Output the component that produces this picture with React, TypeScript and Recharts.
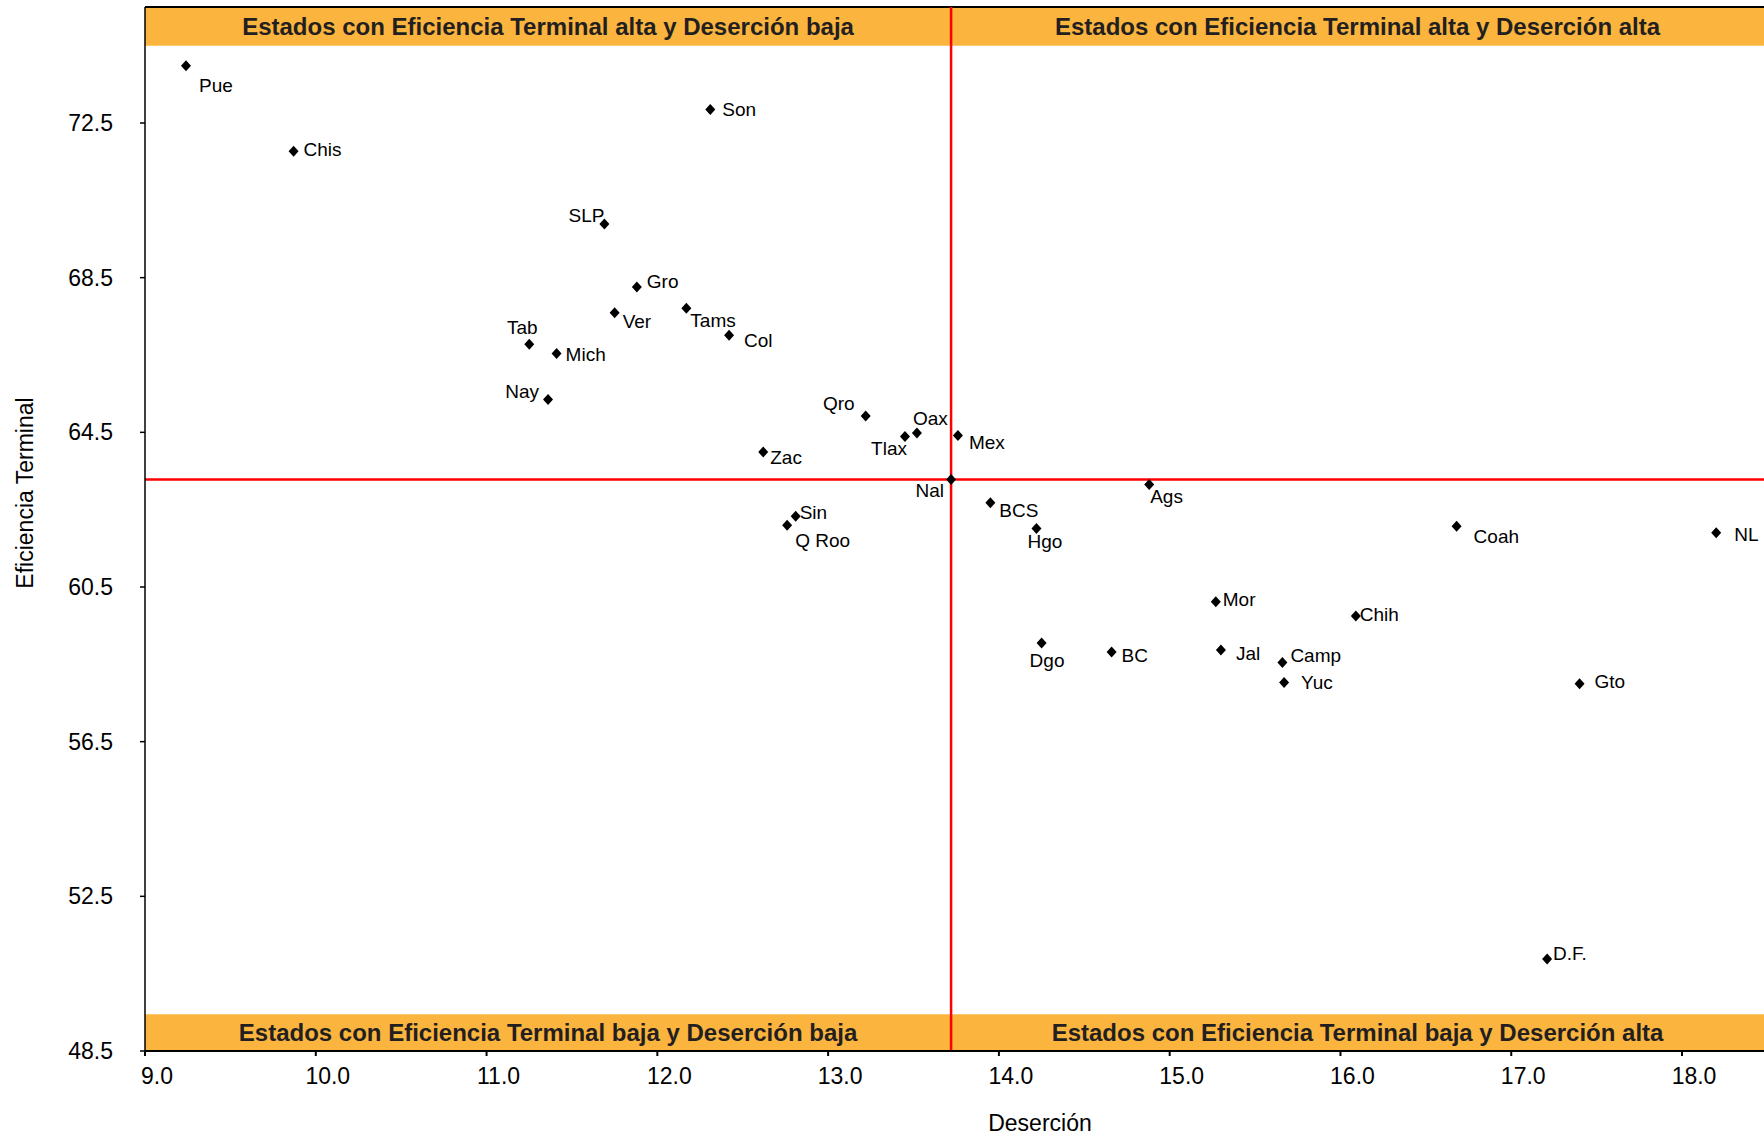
import React from "react";
import {
  ScatterChart,
  Scatter,
  XAxis,
  YAxis,
  ReferenceArea,
  ReferenceLine,
} from "recharts";

// estados, deserción (%) y eficiencia terminal (%)
const states = [
  "Pue", "Chis", "Son", "SLP", "Gro", "Ver", "Tams", "Col", "Tab", "Mich", "Nay",
  "Qro", "Oax", "Tlax", "Mex", "Zac", "Nal", "Sin", "Q Roo", "BCS", "Hgo", "Ags",
  "Coah", "NL", "Mor", "Chih", "Dgo", "BC", "Jal", "Camp", "Yuc", "Gto", "D.F.",
];
const desercion = [
  9.24, 9.87, 12.31, 11.69, 11.88, 11.75, 12.17, 12.42, 11.25, 11.41, 11.36,
  13.22, 13.52, 13.45, 13.76, 12.62, 13.72, 12.81, 12.76, 13.95, 14.22, 14.88,
  16.68, 18.2, 15.27, 16.09, 14.25, 14.66, 15.3, 15.66, 15.67, 17.4, 17.21,
];
const eficiencia = [
  73.98, 71.77, 72.85, 69.89, 68.26, 67.59, 67.71, 67.01, 66.78, 66.54, 65.35,
  64.92, 64.48, 64.39, 64.42, 63.99, 63.28, 62.33, 62.1, 62.68, 62.01, 63.15,
  62.07, 61.9, 60.12, 59.75, 59.05, 58.82, 58.87, 58.55, 58.03, 58.0, 50.88,
];
const xTicks = [9, 10, 11, 12, 13, 14, 15, 16, 17, 18];
const yTicks = [48.5, 52.5, 56.5, 60.5, 64.5, 68.5, 72.5];

const data = states.map((name, i) => ({ name, x: desercion[i], y: eficiencia[i] }));
const nal = data[states.indexOf("Nal")];

const X_MAX = 18.48;

// dónde va cada etiqueta respecto al punto
const labelPos: Record<string, [number, number, string]> = {
  Pue: [13, 20, "start"], Chis: [10, -2, "start"], Son: [12, 0, "start"],
  SLP: [0, -9, "end"], Gro: [10, -6, "start"], Ver: [8, 8, "start"],
  Tams: [4, 12, "start"], Col: [15, 5, "start"], Tab: [-7, -17, "middle"],
  Mich: [9, 1, "start"], Nay: [-9, -8, "end"], Qro: [-11, -13, "end"],
  Oax: [-4, -15, "start"], Tlax: [2, 12, "end"], Mex: [11, 7, "start"],
  Zac: [7, 5, "start"], Nal: [-7, 11, "end"], Sin: [4, -4, "start"],
  "Q Roo": [8, 15, "start"], BCS: [9, 8, "start"], Hgo: [-9, 13, "start"],
  Ags: [1, 12, "start"], Coah: [17, 10, "start"], NL: [18, 1, "start"],
  Mor: [7, -2, "start"], Chih: [4, -2, "start"], Dgo: [-12, 17, "start"],
  BC: [10, 3, "start"], Jal: [15, 3, "start"], Camp: [8, -7, "start"],
  Yuc: [17, 0, "start"], Gto: [15, -2, "start"], "D.F.": [6, -6, "start"],
};

const FONT = "'Liberation Sans', Arial, sans-serif";
const ORANGE = "#fbb43d";
const BAND_TEXT = "#231f20";

const Point = (props: any) => {
  const { cx, cy, payload } = props;
  const [dx, dy, anchor] = labelPos[payload.name] || [8, 0, "start"];
  return (
    <g>
      <polygon
        points={`${cx},${cy - 5.5} ${cx + 5},${cy} ${cx},${cy + 5.5} ${cx - 5},${cy}`}
        fill="#000"
      />
      <text
        x={cx + dx}
        y={cy + dy}
        dy="0.35em"
        textAnchor={anchor as any}
        fontFamily={FONT}
        fontSize={19}
        fill="#000"
      >
        {payload.name}
      </text>
    </g>
  );
};

const XTick = (props: any) => {
  const { x, y, payload } = props;
  return (
    <text x={x + 12} y={y + 26} textAnchor="middle" fontFamily={FONT} fontSize={23} fill="#000">
      {payload.value.toFixed(1)}
    </text>
  );
};

const YTick = (props: any) => {
  const { y, payload } = props;
  return (
    <text x={113} y={y} dy="0.35em" textAnchor="end" fontFamily={FONT} fontSize={23} fill="#000">
      {payload.value.toFixed(1)}
    </text>
  );
};

const bandLabel = (value: string) => ({
  value,
  position: "center" as const,
  fill: BAND_TEXT,
  fontSize: 24,
  fontWeight: 700,
  fontFamily: FONT,
});

export default function App() {
  return (
    <div style={{ position: "absolute", left: 0, top: 0, background: "#fff" }}>
      <ScatterChart
        width={1764}
        height={1136}
        margin={{ top: 7, right: 0, bottom: 0, left: 0 }}
      >
        <XAxis
          type="number"
          dataKey="x"
          domain={[9, X_MAX]}
          ticks={xTicks}
          height={85}
          tick={<XTick />}
          tickSize={5}
          stroke="#000"
          strokeWidth={2}
          allowDataOverflow
          label={() => (
            <text x={1040} y={1131} textAnchor="middle" fontFamily={FONT} fontSize={23} fill="#000">
              Deserción
            </text>
          )}
        />
        <YAxis
          type="number"
          dataKey="y"
          domain={[48.5, 75.5]}
          ticks={yTicks}
          width={145}
          tick={<YTick />}
          tickSize={5}
          stroke="#000"
          strokeWidth={1.5}
          allowDataOverflow
          label={() => (
            <text
              x={25}
              y={493}
              transform="rotate(-90 25 493)"
              dy="0.35em"
              textAnchor="middle"
              fontFamily={FONT}
              fontSize={23}
              fill="#000"
            >
              Eficiencia Terminal
            </text>
          )}
        />
        <ReferenceArea x1={9} x2={nal.x} y1={74.5} y2={75.5} fill={ORANGE} fillOpacity={1} stroke="none" label={bandLabel("Estados con Eficiencia Terminal alta y Deserción baja")} />
        <ReferenceArea x1={nal.x} x2={X_MAX} y1={74.5} y2={75.5} fill={ORANGE} fillOpacity={1} stroke="none" label={bandLabel("Estados con Eficiencia Terminal alta y Deserción alta")} />
        <ReferenceArea x1={9} x2={nal.x} y1={48.5} y2={49.45} fill={ORANGE} fillOpacity={1} stroke="none" label={bandLabel("Estados con Eficiencia Terminal baja y Deserción baja")} />
        <ReferenceArea x1={nal.x} x2={X_MAX} y1={48.5} y2={49.45} fill={ORANGE} fillOpacity={1} stroke="none" label={bandLabel("Estados con Eficiencia Terminal baja y Deserción alta")} />
        <ReferenceLine y={75.5} stroke="#000" strokeWidth={2} />
        <ReferenceLine y={nal.y} stroke="#ff0000" strokeWidth={2.5} />
        <ReferenceLine x={nal.x} stroke="#ff0000" strokeWidth={2.5} />
        <Scatter data={data} shape={<Point />} isAnimationActive={false} />
      </ScatterChart>
    </div>
  );
}
